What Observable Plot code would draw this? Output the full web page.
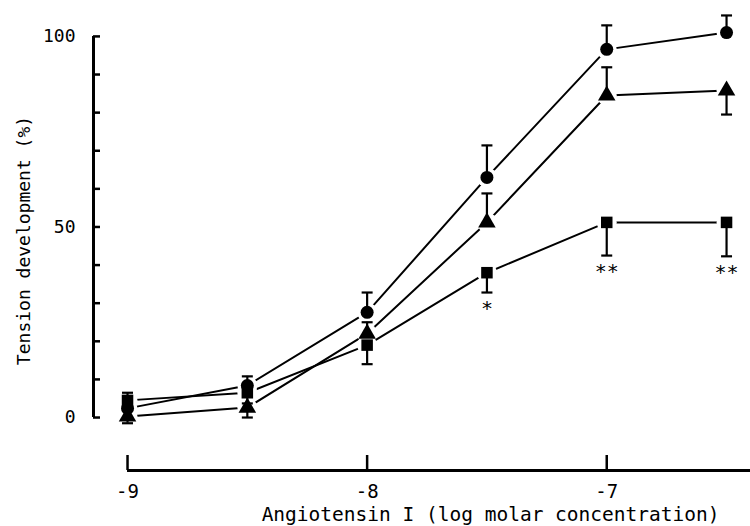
<!DOCTYPE html>
<html>
<head>
<meta charset="utf-8">
<script src="https://cdn.jsdelivr.net/npm/d3@7"></script>
<script src="https://cdn.jsdelivr.net/npm/@observablehq/plot@0.6"></script>
<style>
  html, body { margin: 0; padding: 0; background: white; }
</style>
</head>
<body>
<div id="chart"></div>
<script>
// Data
const logConc = [-9, -8.5, -8, -7.5, -7, -6.5];
const circleMean = [2.4, 8.4, 27.6, 63, 96.6, 101];
const circleErrEnd = [5, 10.8, 32.8, 71.4, 102.9, 105.5];
const triangleMean = [0.3, 2.6, 22, 51.2, 84.5, 85.8];
const triangleErrEnd = [-1.5, 0, 25, 58.8, 91.9, 79.5];
const squareMean = [4.5, 6.5, 19, 38, 51.2, 51.2];
const squareErrEnd = [6.5, 3.7, 14, 32.8, 42.5, 42.3];
const significance = ["", "", "", "*", "**", "**"];

const xTicks = [-9, -8, -7];
const yTicks = [0, 10, 20, 30, 40, 50, 60, 70, 80, 90, 100];
const yLabelTicks = [0, 50, 100];
const xTitle = "Angiotensin I (log molar concentration)";
const yTitle = "Tension development (%)";

const xDomain = [-9.142, -6.4];
const yDomain = [-13.9, 106.8];

const seriesDefs = [
  {name: "circle", symbol: "circle", mean: circleMean, err: circleErrEnd},
  {name: "triangle", symbol: "triangle", mean: triangleMean, err: triangleErrEnd},
  {name: "square", symbol: "square", mean: squareMean, err: squareErrEnd}
];
const rows = seriesDefs.flatMap(s => logConc.map((x, i) => ({
  series: s.name, symbol: s.symbol, x, y: s.mean[i], err: s.err[i]
})));
const sigRows = logConc.map((x, i) => ({x, y: squareErrEnd[i], label: significance[i]})).filter(d => d.label);

const capSymbol = {
  draw(context) { context.moveTo(-5.5, 0); context.lineTo(5.5, 0); }
};

const font = "DejaVu Sans Mono";

const chart = Plot.plot({
  width: 750,
  height: 526,
  marginLeft: 93,
  marginRight: 0,
  marginTop: 10,
  marginBottom: 56,
  x: {domain: xDomain},
  y: {domain: yDomain},
  style: {fontFamily: font, fontSize: "18px", background: "white", color: "black"},
  marks: [
    // y axis line
    Plot.ruleX([xDomain[0]], {y1: 0, y2: 100, stroke: "black", strokeWidth: 3}),
    Plot.axisY({ticks: yTicks, tickSize: -7, tickFormat: () => "", strokeWidth: 2.5, label: null}),
    Plot.axisY({ticks: yLabelTicks, tickSize: 0, tickPadding: 18, tickFormat: d => String(d), fontSize: 18, label: null}),
    // x axis line
    Plot.ruleY([yDomain[0]], {x1: xTicks[0], x2: xDomain[1], stroke: "black", strokeWidth: 3}),
    Plot.axisX({ticks: xTicks, tickSize: -15, tickFormat: () => "", strokeWidth: 2.5, label: null}),
    Plot.axisX({ticks: xTicks, tickSize: 0, tickPadding: 14, tickFormat: d => String(d), fontSize: 19, label: null}),
    // series lines
    Plot.line(rows, {x: "x", y: "y", z: "series", stroke: "black", strokeWidth: 2}),
    // white halos to create gaps around markers
    Plot.dot(rows, {x: "x", y: "y", r: 10, fill: "white", stroke: "none"}),
    // error bars
    Plot.ruleX(rows, {x: "x", y1: "y", y2: "err", stroke: "black", strokeWidth: 2.2}),
    Plot.dot(rows, {x: "x", y: "err", symbol: () => capSymbol, r: 5, fill: "none", stroke: "black", strokeWidth: 2.2}),
    // markers
    Plot.dot(rows, {x: "x", y: "y", symbol: "symbol", r: 6.5, fill: "black", stroke: "none"}),
    // significance stars
    Plot.text(sigRows, {x: "x", y: "y", text: "label", dy: 16, fontSize: 20, fontFamily: font, fill: "black"}),
    // titles
    Plot.text([xTitle], {frameAnchor: "bottom-right", dx: -31, dy: 50, textAnchor: "end", fontSize: 19.5, fontFamily: font, fill: "black"}),
    Plot.text([yTitle], {frameAnchor: "left", dx: -69, rotate: -90, textAnchor: "middle", fontSize: 18, fontFamily: font, fill: "black"})
  ]
});

document.getElementById("chart").appendChild(chart);
</script>
</body>
</html>
